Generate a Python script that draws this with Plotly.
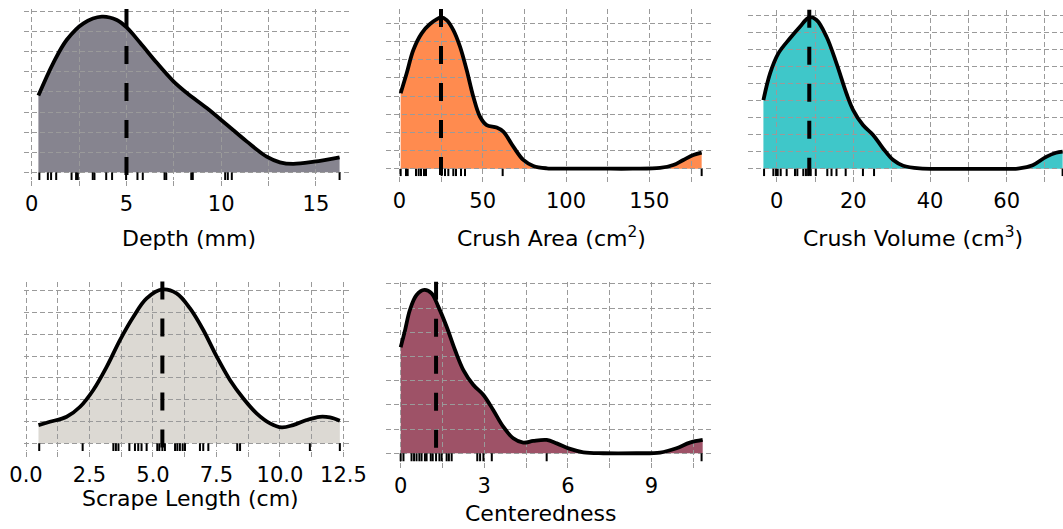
import plotly.graph_objects as go

W, H = 1063, 529

# ---------------- data ----------------
depth_x = [0.35, 1.14, 1.85, 2.73, 3.70, 4.49, 5.02, 5.72, 6.60, 7.48, 8.19, 9.24, 10.30, 11.36, 12.40, 13.10, 13.80, 14.90, 16.25]
depth_y = [3.82, 5.45, 6.60, 7.42, 7.75, 7.58, 7.20, 6.45, 5.45, 4.53, 3.95, 3.20, 2.37, 1.53, 0.78, 0.50, 0.42, 0.53, 0.75]
depth_rug = [0.40, 0.85, 1.02, 1.29, 2.10, 2.34, 2.43, 3.22, 3.31, 3.93, 4.24, 4.98, 5.58, 5.86, 7.01, 7.10, 8.42, 8.50, 10.21, 10.35, 10.56, 16.25]
depth_median = 5.0

area_x = [0.8, 4.4, 8.4, 13.4, 18.4, 25.0, 28.4, 32.4, 36.4, 40.4, 44.4, 48.4, 52.4, 58.4, 62.4, 68.4, 74.4, 80.4, 88.4, 100, 120, 140, 156.4, 164.4, 170.4, 176.4, 181.4]
area_y = [4.15, 5.25, 6.53, 7.45, 7.96, 8.33, 8.18, 7.63, 6.72, 5.43, 3.96, 2.86, 2.40, 2.26, 2.04, 1.21, 0.48, 0.15, 0.02, 0, 0, 0, 0.04, 0.20, 0.48, 0.75, 0.88]
area_rug = [0.8, 4, 5, 10, 11.6, 13, 14.8, 16, 25.4, 27.4, 29.4, 32.4, 34, 37, 39.4, 62, 181.4]
area_median = 25.0

volume_x = [-3.47, -1.73, 0.43, 3.47, 6.07, 8.5, 10.4, 13.0, 15.6, 18.2, 19.95, 22.5, 25.2, 27.75, 30.4, 33.0, 37.3, 46, 55, 63.3, 66.8, 70.3, 72.9, 74.6]
volume_y = [4.02, 5.59, 6.76, 7.64, 8.32, 8.87, 8.71, 7.73, 6.17, 4.41, 3.44, 2.56, 1.97, 1.19, 0.51, 0.18, 0.02, 0, 0, 0.02, 0.21, 0.70, 0.94, 1.0]
volume_rug = [-3.3, -0.87, -0.17, 0.26, 1.04, 2.6, 4.77, 5.38, 6.94, 7.63, 8.24, 8.85, 10.2, 13.2, 14.3, 15.6, 18.0, 22.5, 25.4, 74.6]
volume_median = 8.5

scrape_x = [0.49, 0.94, 1.6, 2.13, 2.65, 3.18, 3.7, 4.23, 4.75, 5.37, 5.93, 6.46, 6.98, 7.51, 8.03, 8.56, 9.08, 9.61, 10.07, 10.52, 11.05, 11.57, 11.97, 12.36]
scrape_y = [0.84, 0.99, 1.22, 1.68, 2.45, 3.52, 4.74, 5.81, 6.65, 7.06, 6.88, 6.19, 5.20, 3.98, 2.91, 2.06, 1.38, 0.92, 0.73, 0.84, 1.07, 1.22, 1.19, 1.04]
scrape_rug = [0.52, 2.23, 3.44, 3.54, 3.64, 4.07, 4.29, 4.42, 4.55, 4.75, 5.17, 5.25, 5.37, 5.47, 5.87, 5.96, 6.06, 6.17, 6.26, 6.85, 6.98, 7.18, 8.32, 8.43, 11.18, 12.36]
scrape_median = 5.37

center_x = [0, 0.16, 0.33, 0.57, 0.85, 1.11, 1.35, 1.65, 1.95, 2.25, 2.61, 2.97, 3.32, 3.68, 4.04, 4.40, 4.76, 5.24, 5.60, 6.08, 6.56, 7.27, 8.47, 9.31, 9.90, 10.38, 10.84]
center_y = [4.38, 5.10, 5.92, 6.54, 6.75, 6.61, 6.06, 5.23, 4.27, 3.44, 2.82, 2.41, 1.79, 1.10, 0.62, 0.44, 0.51, 0.55, 0.41, 0.18, 0.04, 0, 0, 0.03, 0.21, 0.44, 0.55]
center_rug = [0, 0.1, 0.39, 0.48, 0.57, 0.67, 0.75, 0.87, 0.93, 1.08, 1.15, 1.27, 1.39, 1.47, 1.65, 1.73, 1.83, 2.75, 2.85, 2.97, 3.27, 5.24, 10.8]
center_median = 1.27

titles = ["Depth (mm)", "Crush Area (cm<sup>2</sup>)", "Crush Volume (cm<sup>3</sup>)",
          "Scrape Length (cm)", "Centeredness"]

# ---------------- layout / style ----------------
FONT = "DejaVu Sans"
GRID = "#9a9a9a"
GDASH = "5px,3px"

panels = [
    dict(x=depth_x, y=depth_y, rug=depth_rug, med=depth_median, fill="#86848F",
         px=(24, 350), py=(9, 180), xr=(-0.41, 16.8), yr=(-0.38, 8.13),
         dtick=5, minor=2.5, fmt=None, tpos=(189, 238)),
    dict(x=area_x, y=area_y, rug=area_rug, med=area_median, fill="#FF8B4F",
         px=(386, 714), py=(9, 176.3), xr=(-8.0, 188.8), yr=(-0.42, 8.79),
         dtick=50, minor=25, fmt=None, tpos=(551, 237)),
    dict(x=volume_x, y=volume_y, rug=volume_rug, med=volume_median, fill="#3FC7C9",
         px=(748, 1063), py=(9.8, 176.3), xr=(-7.49, 74.7), yr=(-0.44, 9.31),
         dtick=20, minor=10, fmt=None, tpos=(913, 237)),
    dict(x=scrape_x, y=scrape_y, rug=scrape_rug, med=scrape_median, fill="#DCD9D3",
         px=(24, 350), py=(281.6, 451), xr=(-0.08, 12.76), yr=(-0.35, 7.42),
         dtick=2.5, minor=1.25, fmt=".1f", tpos=(190, 498)),
    dict(x=center_x, y=center_y, rug=center_rug, med=center_median, fill="#9E5267",
         px=(385.5, 713), py=(281.7, 461.5), xr=(-0.545, 11.21), yr=(-0.34, 7.09),
         dtick=3, minor=1.5, fmt=None, tpos=(540, 513)),
]


def xn(n):
    return "x" if n == 1 else f"x{n}"


def yn(n):
    return "y" if n == 1 else f"y{n}"


def lk(prefix, n):
    return f"{prefix}axis" if n == 1 else f"{prefix}axis{n}"


fig = go.Figure()
layout = dict(template="none", width=W, height=H, margin=dict(l=0, r=0, t=0, b=0, pad=0),
              autosize=False, paper_bgcolor="white", plot_bgcolor="rgba(0,0,0,0)",
              showlegend=False)
shapes, annotations = [], []

for i, p in enumerate(panels):
    a, b = i + 1, i + 6
    xd = [p["px"][0] / W, min(p["px"][1] / W, 1.0)]
    yd = [1 - p["py"][1] / H, 1 - p["py"][0] / H]

    # lower subplot: filled density area
    fig.add_trace(go.Scatter(x=p["x"], y=p["y"], mode="lines", fill="tozeroy",
                             fillcolor=p["fill"], line=dict(width=0, shape="spline", smoothing=1.0),
                             xaxis=xn(a), yaxis=yn(a), hoverinfo="skip"))
    layout[lk("x", a)] = dict(domain=xd, range=list(p["xr"]), anchor=yn(a), visible=False,
                              automargin=False)
    layout[lk("y", a)] = dict(domain=yd, range=list(p["yr"]), anchor=xn(a), visible=False,
                              automargin=False)

    # upper subplot: grid, outline, rug
    fig.add_trace(go.Scatter(x=p["x"], y=p["y"], mode="lines",
                             line=dict(color="black", width=3.8, shape="spline", smoothing=1.0),
                             xaxis=xn(b), yaxis=yn(b), hoverinfo="skip"))
    rx, ry = [], []
    for r in p["rug"]:
        rx += [r, r, None]
        ry += [0, p["yr"][0], None]
    fig.add_trace(go.Scatter(x=rx, y=ry, mode="lines", line=dict(color="black", width=2),
                             xaxis=xn(b), yaxis=yn(b), hoverinfo="skip"))

    xax = dict(domain=xd, range=list(p["xr"]), anchor=yn(b), automargin=False,
               showgrid=True, gridcolor=GRID,
               griddash=GDASH, gridwidth=1, tick0=0, dtick=p["dtick"], ticks="outside",
               ticklen=5, tickcolor=GRID, tickwidth=1, showline=False, zeroline=False,
               tickfont=dict(size=21, family=FONT, color="black"),
               minor=dict(tick0=0, dtick=p["minor"], showgrid=True, gridcolor=GRID,
                          griddash=GDASH, gridwidth=1, ticks="outside", ticklen=5,
                          tickcolor=GRID, tickwidth=1))
    if p["fmt"]:
        xax["tickformat"] = p["fmt"]
    layout[lk("x", b)] = xax
    layout[lk("y", b)] = dict(domain=yd, range=list(p["yr"]), anchor=xn(b), automargin=False,
                              showgrid=True,
                              gridcolor=GRID, griddash=GDASH, gridwidth=1, tick0=0, dtick=1,
                              showticklabels=False, ticks="", zeroline=False, showline=False)

    shapes.append(dict(type="line", xref=xn(b), yref=f"{yn(b)} domain", x0=p["med"], x1=p["med"],
                       y0=1, y1=0, line=dict(color="black", width=4, dash="18px,19px")))
    annotations.append(dict(text=titles[i], x=p["tpos"][0] / W, y=1 - p["tpos"][1] / H,
                            xref="paper", yref="paper", showarrow=False, xanchor="center",
                            yanchor="middle", font=dict(size=22, family=FONT, color="black")))

layout["shapes"] = shapes
layout["annotations"] = annotations
fig.update_layout(**layout)
fig.write_html("out.html", config={"displayModeBar": False},
               post_script="document.body.style.margin='0';document.body.style.overflow='hidden';")
